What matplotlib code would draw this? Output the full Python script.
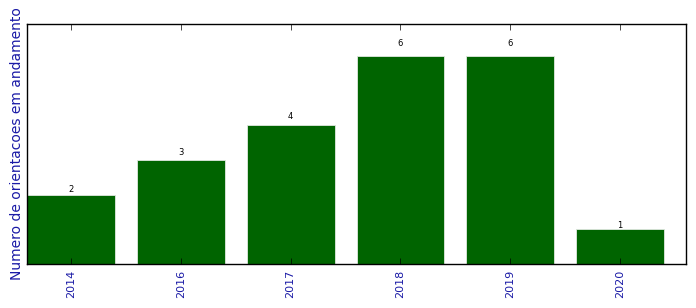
import numpy as np
import matplotlib
matplotlib.use('Agg')
import matplotlib.pyplot as plt

plt.style.use('classic')

anos = ['2014', '2016', '2017', '2018', '2019', '2020']
orientacoes = [2, 3, 4, 6, 6, 1]


def orientacoes_plot(labels, valores):
    fig = plt.figure(figsize=(6.96, 3.08), dpi=100)
    ax = fig.add_axes([27 / 696, 44 / 308, 659 / 696, 240 / 308])
    pos = np.arange(len(labels))
    barras = ax.bar(pos, valores, width=0.8, align='center',
                    color='#006400', edgecolor='#e0e8e0', linewidth=0.6)
    for b in barras:
        h = b.get_height()
        ax.annotate('%d' % int(h), (b.get_x() + b.get_width() / 2., 1.05 * h),
                    xytext=(0, -2), textcoords='offset points',
                    ha='center', va='bottom', fontsize=6)
    ax.set_xlim(-0.4, len(labels) - 0.4)
    ax.set_ylim(0, max(valores) * 1.153)
    ax.set_xticks(pos)
    ax.set_xticklabels(labels, rotation=90, fontsize=8, color='#1a1aa6')
    ax.set_yticks([])
    ax.set_ylabel('Numero de orientacoes em andamento', fontsize=10,
                  color='#1a1aa6', labelpad=2)
    fig.savefig('out.png', dpi=100)


if __name__ == "__main__":
    orientacoes_plot(anos, orientacoes)
